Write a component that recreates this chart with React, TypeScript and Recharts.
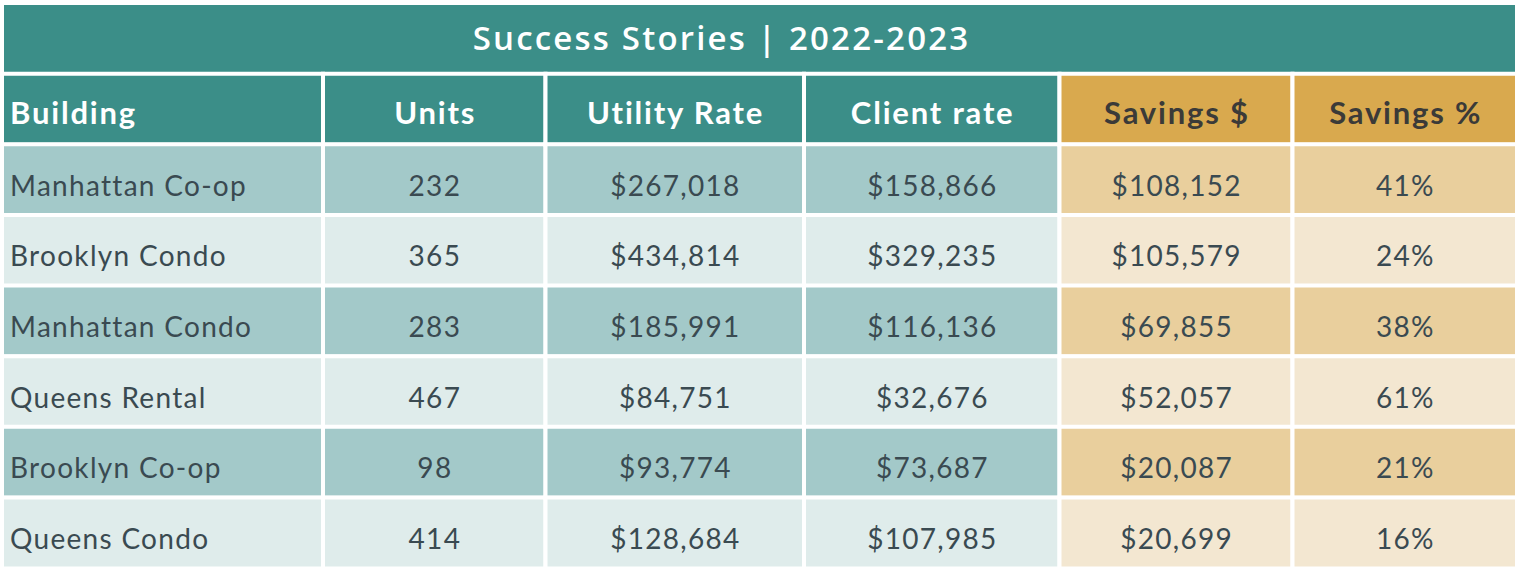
import React from 'react';
import { BarChart, Bar, XAxis, YAxis, Rectangle } from 'recharts';

const TITLE = 'Success Stories | 2022-2023';
const columns = ['Building', 'Units', 'Utility Rate', 'Client rate', 'Savings $', 'Savings %'];
const buildings = ['Manhattan Co-op', 'Brooklyn Condo', 'Manhattan Condo', 'Queens Rental', 'Brooklyn Co-op', 'Queens Condo'];
const units = [232, 365, 283, 467, 98, 414];
const utilityRate = [267018, 434814, 185991, 84751, 93774, 128684];
const clientRate = [158866, 329235, 116136, 32676, 73687, 107985];
const savingsUsd = [108152, 105579, 69855, 52057, 20087, 20699];
const savingsPct = [41, 24, 38, 61, 21, 16];

// layout constants (column widths in px)
const COL_WIDTHS = [321, 222.5, 258.5, 255.5, 233, 224.5];
const TOTAL = COL_WIDTHS.reduce((a, b) => a + b, 0);
const GOLD_COLS = [4, 5];

const TEAL = '#3b8e88';
const TEAL_DARK_ROW = '#a3c9c9';
const TEAL_LIGHT_ROW = '#dfeceb';
const GOLD_HEAD = '#d9a94e';
const GOLD_DARK_ROW = '#e9cf9d';
const GOLD_LIGHT_ROW = '#f3e7d1';
const BODY_TEXT = '#3a4a51';
const GOLD_HEAD_TEXT = '#3b3a38';

const money = (v: number) => '$' + v.toLocaleString('en-US');

type Row = { [k: string]: any };

const tableRows: Row[] = [];
{
  const t: Row = { row: 'title', kind: 'title', span: TOTAL, text: TITLE };
  COL_WIDTHS.forEach((_, i) => (t['c' + i] = 0));
  tableRows.push(t);
  const h: Row = { row: 'header', kind: 'header', span: 0 };
  COL_WIDTHS.forEach((w, i) => {
    h['c' + i] = w;
    h['l' + i] = columns[i];
  });
  tableRows.push(h);
  buildings.forEach((b, r) => {
    const d: Row = { row: b, kind: r % 2 === 0 ? 'dark' : 'light', span: 0 };
    const vals = [b, String(units[r]), money(utilityRate[r]), money(clientRate[r]), money(savingsUsd[r]), savingsPct[r] + '%'];
    COL_WIDTHS.forEach((w, i) => {
      d['c' + i] = w;
      d['l' + i] = vals[i];
    });
    tableRows.push(d);
  });
}

const fillFor = (kind: string, col: number) => {
  const gold = GOLD_COLS.includes(col);
  if (kind === 'header') return gold ? GOLD_HEAD : TEAL;
  if (kind === 'dark') return gold ? GOLD_DARK_ROW : TEAL_DARK_ROW;
  return gold ? GOLD_LIGHT_ROW : TEAL_LIGHT_ROW;
};

const makeCellShape = (col: number) => (props: any) => {
  const { x, y, width, height, payload } = props;
  if (!width || width <= 0 || !payload) return null;
  const kind = payload.kind;
  const label = payload['l' + col];
  const isHeader = kind === 'header';
  const gold = GOLD_COLS.includes(col);
  const left = col === 0;
  const ls = isHeader ? 1.8 : 1.3;
  const tx = left ? x + 8 : x + width / 2 + ls / 2;
  const ty = y + height / 2 + (isHeader ? 15 : 16);
  return (
    <g>
      <Rectangle x={x} y={y} width={width} height={height} fill={fillFor(kind, col)} stroke="#ffffff" strokeWidth={4} />
      <text
        x={tx}
        y={ty}
        textAnchor={left ? 'start' : 'middle'}
        fontFamily="Lato, 'Open Sans', sans-serif"
        fontSize={isHeader ? 31 : 28}
        fontWeight={isHeader ? 700 : 400}
        letterSpacing={ls}
        fill={isHeader ? (gold ? GOLD_HEAD_TEXT : '#ffffff') : BODY_TEXT}
      >
        {label}
      </text>
    </g>
  );
};

const titleShape = (props: any) => {
  const { x, y, width, height, payload } = props;
  if (!width || width <= 0 || !payload) return null;
  return (
    <g>
      <Rectangle x={x} y={y} width={width} height={height} fill={TEAL} stroke="#ffffff" strokeWidth={4} />
      <text
        x={x + width / 2 - 38}
        y={y + height / 2 + 11}
        textAnchor="middle"
        fontFamily="'Open Sans', sans-serif"
        fontSize={33}
        fontWeight={600}
        letterSpacing={2.2}
        fill="#ffffff"
      >
        {payload.text}
      </text>
    </g>
  );
};

export default function App() {
  return (
    <div style={{ position: 'absolute', left: 0, top: 0, width: 1520, height: 571, background: '#ffffff' }}>
      <BarChart
        width={1520}
        height={571}
        data={tableRows}
        layout="vertical"
        margin={{ top: 3, right: 3, bottom: 3, left: 2 }}
        barCategoryGap={0}
        barGap={0}
      >
        <XAxis type="number" hide domain={[0, TOTAL]} allowDataOverflow />
        <YAxis type="category" dataKey="row" hide />
        <Bar dataKey="span" stackId="t" isAnimationActive={false} shape={titleShape} />
        {COL_WIDTHS.map((_, i) => (
          <Bar key={i} dataKey={'c' + i} stackId="t" isAnimationActive={false} shape={makeCellShape(i)} />
        ))}
      </BarChart>
    </div>
  );
}
